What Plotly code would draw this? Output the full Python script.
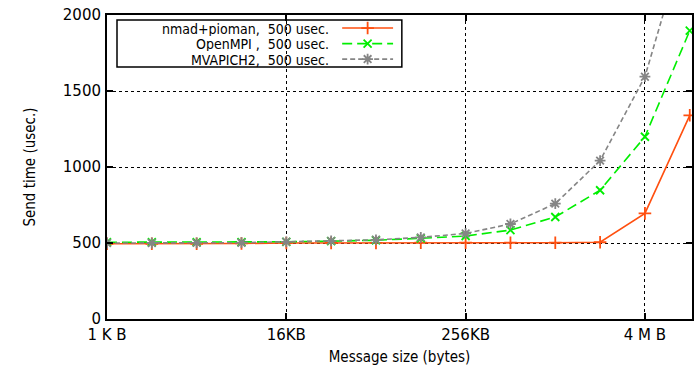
import plotly.graph_objects as go
import math

sizes = [2 ** k for k in range(10, 24)]  # 1KB .. 8MB
nmad_pioman = [495, 495, 495, 497, 500, 500, 501, 502, 502, 502, 502, 505, 695, 1340]
openmpi = [505, 505, 505, 506, 508, 512, 518, 531, 546, 585, 671, 847, 1199, 1897]
mvapich2 = [500, 500, 501, 502, 508, 514, 521, 537, 563, 625, 759, 1042, 1594, 2600]
series_names = ["nmad+pioman,  500 usec.", "OpenMPI ,  500 usec.", "MVAPICH2,  500 usec."]
x_tickvals = [1024, 16384, 262144, 4194304]
x_ticktext = ["1 K B", "16KB", "256KB", "4 M B"]
y_tickvals = [0, 500, 1000, 1500, 2000]

styles = [
    dict(color="#ff4f0f", dash="solid", symbol="cross-thin-open", size=9),
    dict(color="#00ee00", dash="10px,5px", symbol="x-thin-open", size=8),
    dict(color="#858585", dash="5px,3px", symbol="asterisk-open", size=9),
]
values = [nmad_pioman, openmpi, mvapich2]

fig = go.Figure()
for vals, st in zip(values, styles):
    fig.add_trace(go.Scatter(
        x=sizes, y=vals, mode="lines+markers", showlegend=False,
        line=dict(color=st["color"], width=1.6, dash=st["dash"]),
        marker=dict(symbol=st["symbol"], size=st["size"], color=st["color"],
                    line=dict(color=st["color"], width=1.8)),
        cliponaxis=True,
    ))

# custom legend (text left of sample, as in the reference)
row_y = [0.957, 0.906, 0.855]
legend_font = dict(family="DejaVu Sans Condensed, Liberation Sans Narrow, DejaVu Sans",
                   size=14, color="black")
for name, st, yy in zip(series_names, styles, row_y):
    fig.add_trace(go.Scatter(
        x=[0.402, 0.489], y=[yy, yy], xaxis="x2", yaxis="y2", mode="lines",
        line=dict(color=st["color"], width=1.6, dash=st["dash"]),
        showlegend=False, hoverinfo="skip"))
    fig.add_trace(go.Scatter(
        x=[0.4455], y=[yy], xaxis="x2", yaxis="y2", mode="markers",
        marker=dict(symbol=st["symbol"], size=st["size"], color=st["color"],
                    line=dict(color=st["color"], width=1.8)),
        showlegend=False, hoverinfo="skip"))
    fig.add_annotation(x=0.381, y=yy, xref="paper", yref="paper", text=name,
                       showarrow=False, xanchor="right", yanchor="middle",
                       height=15, borderpad=0, font=legend_font)

fig.add_shape(type="rect", xref="paper", yref="paper", x0=0.0171, x1=0.504,
              y0=0.829, y1=0.9836, line=dict(color="black", width=1.5),
              fillcolor="white", layer="between")

tickfont = dict(family="DejaVu Sans", size=15, color="black")
title_font = dict(family="DejaVu Sans Condensed, Liberation Sans Narrow, DejaVu Sans",
                  size=15, color="black")
fig.update_layout(
    width=696, height=366,
    margin=dict(l=107, r=4, t=15, b=47, autoexpand=False),
    paper_bgcolor="white", plot_bgcolor="white",
    xaxis=dict(type="log", range=[math.log10(1024), math.log10(2 ** 23.05)],
               tickvals=x_tickvals, ticktext=x_ticktext, tickfont=tickfont,
               ticks="inside", ticklen=6, tickwidth=1.5, tickcolor="black",
               showline=True, linecolor="black", linewidth=2, mirror="ticks",
               showgrid=True, gridcolor="black", griddash="dot", gridwidth=1,
               zeroline=False, ticklabelstandoff=1, automargin=False,
               title=dict(text="Message size (bytes)", standoff=10, font=title_font)),
    yaxis=dict(range=[0, 2000], tickvals=y_tickvals, tickfont=tickfont,
               ticks="inside", ticklen=6, tickwidth=1.5, tickcolor="black",
               showline=True, linecolor="black", linewidth=2, mirror="ticks",
               showgrid=True, gridcolor="black", griddash="dot", gridwidth=1,
               zeroline=False, ticklabelstandoff=1, automargin=False,
               title=dict(text="Send time (usec.)", standoff=24, font=title_font)),
    xaxis2=dict(overlaying="x", range=[0, 1], visible=False, fixedrange=True),
    yaxis2=dict(overlaying="y", range=[0, 1], visible=False, fixedrange=True),
)

fig.write_html("out.html")
